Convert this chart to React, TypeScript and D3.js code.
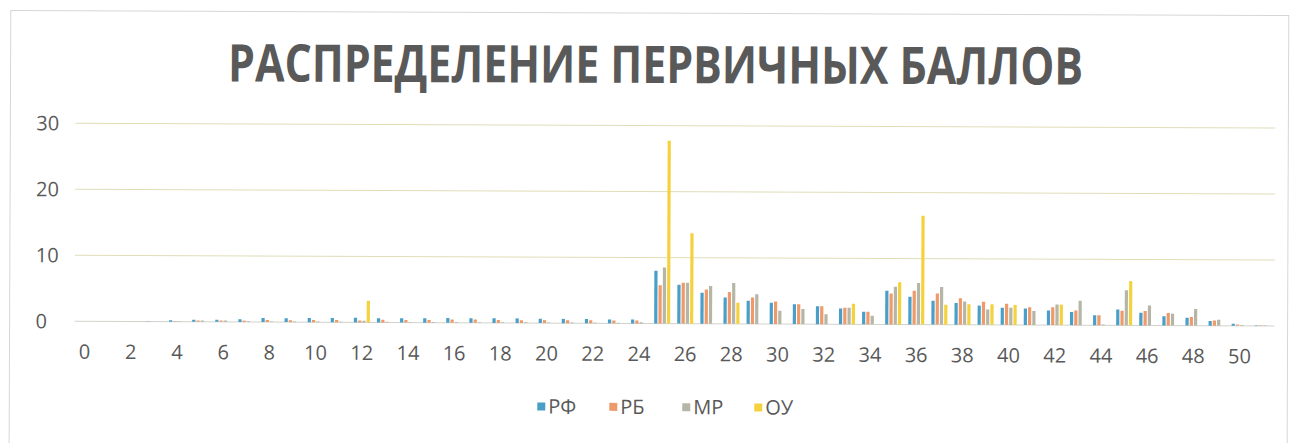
import React from "react";
import * as d3 from "d3";

const categories: number[] = Array.from({ length: 52 }, (_, i) => i);
const tickLabels: number[] = [0, 2, 4, 6, 8, 10, 12, 14, 16, 18, 20, 22, 24, 26, 28, 30, 32, 34, 36, 38, 40, 42, 44, 46, 48, 50];
const yTicks: number[] = [0, 10, 20, 30];
const seriesNames: string[] = ["РФ", "РБ", "МР", "ОУ"];
const seriesColors: string[] = ["#4a9fc8", "#ee9a6a", "#b6b6a8", "#f3d23e"];

const rf: number[] = [0, 0, 0, 0.05, 0.2, 0.3, 0.3, 0.4, 0.6, 0.6, 0.65, 0.65, 0.7, 0.65, 0.65, 0.65, 0.7, 0.7, 0.7, 0.7, 0.65, 0.65, 0.65, 0.6, 0.6,
  8.0, 5.9, 4.7, 4.0, 3.5, 3.2, 3.0, 2.7, 2.4, 1.9, 5.1, 4.2, 3.6, 3.3, 2.9, 2.6, 2.5, 2.2, 2.0, 1.5, 2.4, 1.9, 1.4, 1.2, 0.7, 0.3, 0.1];
const rb: number[] = [0, 0, 0, 0, 0.05, 0.2, 0.2, 0.2, 0.3, 0.3, 0.35, 0.35, 0.3, 0.4, 0.4, 0.4, 0.5, 0.5, 0.45, 0.4, 0.45, 0.45, 0.45, 0.45, 0.45,
  5.8, 6.2, 5.2, 4.8, 4.0, 3.4, 3.0, 2.7, 2.5, 1.9, 4.7, 5.1, 4.7, 4.0, 3.5, 3.2, 2.7, 2.7, 2.2, 1.5, 2.2, 2.2, 1.9, 1.3, 0.8, 0.2, 0.1];
const mr: number[] = [0, 0, 0, 0, 0.05, 0.2, 0.2, 0.1, 0.1, 0.1, 0.1, 0.1, 0.25, 0.1, 0.1, 0.1, 0.1, 0.1, 0.1, 0.1, 0.1, 0.1, 0.1, 0.1, 0.2,
  8.5, 6.2, 5.7, 6.2, 4.5, 2.0, 2.3, 1.5, 2.5, 1.3, 5.7, 6.3, 5.7, 3.5, 2.3, 2.6, 2.1, 3.1, 3.7, 0.1, 5.3, 3.0, 1.8, 2.5, 0.9, 0.1, 0.1];
const ou: number[] = [0, 0, 0, 0, 0, 0, 0, 0, 0, 0, 0, 0, 3.3, 0, 0, 0, 0, 0, 0, 0, 0, 0, 0, 0, 0,
  27.7, 13.7, 0, 3.2, 0, 0, 0, 0, 3.1, 0, 6.4, 16.5, 3.0, 3.1, 3.1, 3.0, 0, 3.1, 0, 0, 6.7, 0, 0, 0, 0, 0, 0];

const seriesValues: number[][] = [rf, rb, mr, ou];

const W = 1298;
const H = 443;

export default function App() {
  const x = d3.scaleBand<number>().domain(categories).range([73.5, 1274.7]).paddingInner(0).paddingOuter(0);
  const y = d3.scaleLinear().domain([0, 30]).range([323.5, 125.5]);
  const inner = d3.scaleBand<number>().domain([0, 1, 2, 3]).range([-8, 8]).paddingInner(0.25);
  const font = "'Open Sans', sans-serif";
  const legendX = [538, 610, 683, 755];

  return (
    <svg width={W} height={H} style={{ position: "absolute", left: 0, top: 0, background: "#fff" }}>
      <rect x={0} y={0} width={W} height={H} fill="#fff" />
      <g transform="rotate(0.22 650 220)">
        <rect x={10} y={13} width={1278} height={440} fill="none" stroke="#d6d6d6" strokeWidth={1} />
        <text x={655} y={83} textAnchor="middle" fontFamily={font} fontWeight={700} fontSize={52}
          fill="#595959" textLength={855} lengthAdjust="spacingAndGlyphs">
          РАСПРЕДЕЛЕНИЕ ПЕРВИЧНЫХ БАЛЛОВ
        </text>
        {yTicks.filter((t) => t > 0).map((t) => (
          <line key={"g" + t} x1={75} x2={1275} y1={y(t)} y2={y(t)} stroke="#e0ddb8" strokeWidth={1} />
        ))}
        <line x1={75} x2={1275} y1={y(0)} y2={y(0)} stroke="#d2d2cc" strokeWidth={1} />
        {yTicks.map((t) => (
          <text key={"y" + t} x={36} y={y(t) + 7} fontFamily={font} fontSize={20} fill="#595959">
            {t}
          </text>
        ))}
        {tickLabels.map((t) => (
          <text key={"x" + t} x={(x(t) as number) + x.bandwidth() / 2} y={361} textAnchor="middle"
            fontFamily={font} fontSize={20} fill="#595959">
            {t}
          </text>
        ))}
        {seriesValues.map((vals, si) => (
          <g key={"s" + si} fill={seriesColors[si]}>
            {vals.map((v, ci) =>
              v > 0 ? (
                <rect key={ci}
                  x={(x(categories[ci]) as number) + x.bandwidth() / 2 + (inner(si) as number)}
                  y={y(v)} width={inner.bandwidth()} height={y(0) - y(v)} />
              ) : null
            )}
          </g>
        ))}
        {seriesNames.map((n, i) => (
          <g key={"l" + i}>
            <rect x={legendX[i]} y={403} width={8} height={8} fill={seriesColors[i]} />
            <text x={legendX[i] + 11} y={414} fontFamily={font} fontSize={20} fill="#595959">{n}</text>
          </g>
        ))}
      </g>
    </svg>
  );
}
